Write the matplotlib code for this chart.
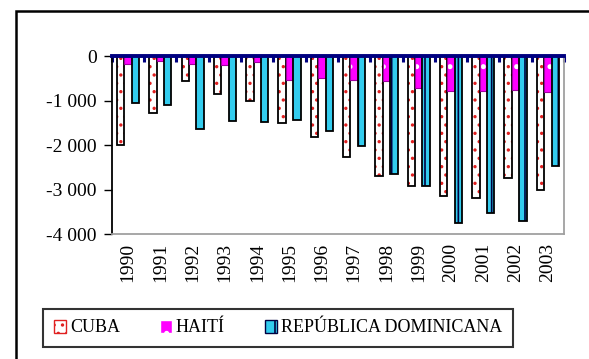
import numpy as np
import matplotlib
matplotlib.use("Agg")
import matplotlib.pyplot as plt
from matplotlib.ticker import FuncFormatter, MultipleLocator
from matplotlib.patches import Rectangle, Patch

plt.rcParams['font.family'] = ['Liberation Serif', 'DejaVu Serif']
plt.rcParams['hatch.linewidth'] = 1.2

years = ['1990', '1991', '1992', '1993', '1994', '1995', '1996',
         '1997', '1998', '1999', '2000', '2001', '2002', '2003']
cuba = [-2000, -1270, -550, -860, -1000, -1510, -1810,
        -2275, -2700, -2910, -3140, -3180, -2725, -3010]
haiti = [-190, -110, -170, -210, -130, -530, -500,
         -540, -560, -720, -775, -785, -755, -800]
rep_dom = [-1060, -1100, -1640, -1455, -1485, -1430, -1680,
           -2020, -2650, -2925, -3750, -3510, -3700, -2460]

x = np.arange(len(years))
w = 0.23

fig = plt.figure(figsize=(5.89, 3.59), dpi=100)
ax = fig.add_axes([0.190, 0.347, 0.7676, 0.497])

# CUBA: white with red dots, black outline
ax.bar(x - w, cuba, w, color='white', edgecolor='#e02020', hatch='..', linewidth=0)
ax.bar(x - w, cuba, w, fill=False, edgecolor='black', linewidth=1.3)
# HAITI: magenta with white dots
ax.bar(x, haiti, w, color='#ff00ff', edgecolor='white', hatch='.', linewidth=0)
ax.bar(x, haiti, w, fill=False, edgecolor='#a000a0', linewidth=0.8)
# REP. DOMINICANA: cyan with dark vertical stripes
ax.bar(x + w, rep_dom, w, color='#33ccee', edgecolor='#000040', hatch='|', linewidth=0)
ax.bar(x + w, rep_dom, w, fill=False, edgecolor='black', linewidth=1.3)

ax.set_xlim(-0.5, len(years) - 0.5)
ax.set_ylim(-4000, 0)
ax.yaxis.set_major_locator(MultipleLocator(1000))
ax.yaxis.set_major_formatter(FuncFormatter(
    lambda v, p: '0' if v == 0 else ('-' if v < 0 else '') + '{:,}'.format(int(abs(v))).replace(',', ' ')))
ax.set_xticks(x)
ax.set_xticklabels(years, rotation=90)
ax.set_xticks(np.arange(-0.5, len(years)), minor=True)
ax.tick_params(axis='x', which='major', length=0, pad=6, labelsize=14)
ax.tick_params(axis='x', which='minor', bottom=False, top=True, direction='in',
               length=4, width=2.2, color='#000080')
ax.tick_params(axis='y', length=6, width=1, labelsize=14, pad=5)

ax.spines['top'].set_color('#000080')
ax.spines['top'].set_linewidth(2.8)
ax.spines['top'].set_zorder(5)
ax.spines['left'].set_linewidth(1.3)
ax.spines['right'].set_color('#a0a0a0')
ax.spines['bottom'].set_color('#a0a0a0')
ax.spines['right'].set_linewidth(1.3)
ax.spines['bottom'].set_linewidth(1.3)

handles = [
    Patch(facecolor='white', edgecolor='#e02020', hatch='..', label='CUBA'),
    Patch(facecolor='#ff00ff', edgecolor='white', hatch='.', label='HAITÍ'),
    Patch(facecolor='#33ccee', edgecolor='#000040', hatch='|', label='REPÚBLICA DOMINICANA'),
]
leg = fig.legend(handles=handles, loc='center', bbox_to_anchor=(278 / 589, 1 - 328 / 359),
                 ncol=3, fontsize=13, frameon=True, fancybox=False, handlelength=0.7,
                 handleheight=0.7, handletextpad=0.2, columnspacing=2.2,
                 borderpad=0.6)
leg.get_frame().set_edgecolor('black')
leg.get_frame().set_linewidth(1.5)
for h in leg.legend_handles:
    h.set_linewidth(1.0)

# outer chart border (only top and left visible in crop)
fig.patches.append(Rectangle((16 / 589, -0.1), 1.2, 1 - 11 / 359 + 0.1,
                             transform=fig.transFigure, fill=False,
                             edgecolor='black', linewidth=1.8))

fig.savefig('out.png', dpi=100)
